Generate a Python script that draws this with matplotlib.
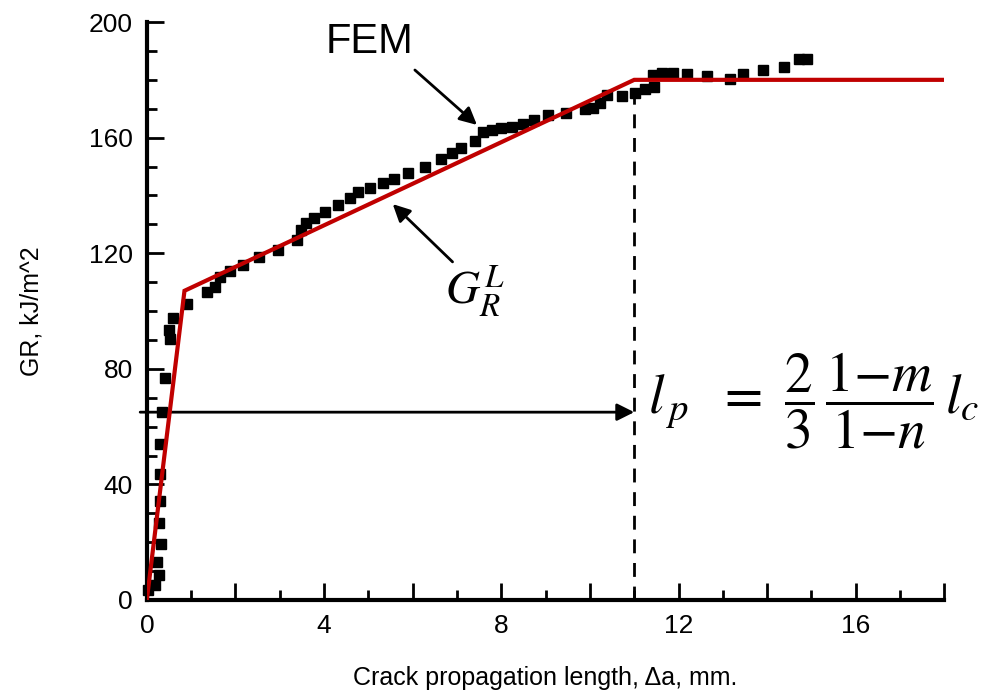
import numpy as np
import matplotlib.pyplot as plt
from matplotlib.ticker import MultipleLocator, FuncFormatter

plt.rcParams['font.family'] = ['Liberation Sans', 'DejaVu Sans']
plt.rcParams['mathtext.fontset'] = 'stix'

# FEM results (crack length in mm, GR in kJ/m^2)
fem_x = [0.03, 0.18, 0.28, 0.24, 0.32, 0.27, 0.30, 0.30, 0.29, 0.35, 0.41, 0.53, 0.50, 0.59, 0.90,
         1.35, 1.53, 1.65, 1.87, 2.17, 2.54, 2.96, 3.38, 3.49, 3.59, 3.77, 4.02, 4.32, 4.58, 4.77,
         5.03, 5.33, 5.58, 5.90, 6.28, 6.65, 6.88, 7.10, 7.40, 7.59, 7.78, 8.00, 8.25, 8.50, 8.74,
         9.06, 9.47, 9.89, 10.07, 10.23, 10.38, 10.72, 11.02, 11.24, 11.44, 11.43, 11.62, 11.88,
         12.20, 12.65, 13.16, 13.45, 13.90, 14.37, 14.72, 14.90]
fem_y = [3.5, 5.2, 8.7, 13.3, 19.3, 26.5, 34.4, 43.6, 53.9, 64.9, 76.9, 90.2, 93.4, 97.7, 102.4,
         106.7, 108.4, 111.7, 114.0, 116.0, 118.8, 121.1, 124.6, 128.0, 130.6, 132.3, 134.4, 136.7, 139.0, 141.3,
         142.5, 144.2, 145.6, 147.6, 149.9, 152.5, 154.6, 156.3, 158.7, 162.0, 162.8, 163.2, 163.8, 164.7, 166.1,
         167.8, 168.4, 169.8, 170.1, 172.1, 174.7, 174.4, 175.6, 176.8, 177.5, 181.7, 182.2, 182.2,
         182.0, 181.5, 180.2, 182.0, 183.4, 184.4, 187.3, 187.3]

# trilinear resistance curve G_R^L
gr_x = [0.0, 0.85, 11.0, 18.0]
gr_y = [0.0, 107.0, 180.0, 180.0]

lp = 11.0      # process zone length
arrow_y = 65.0

fig = plt.figure(figsize=(9.92, 6.91), dpi=100)
ax = fig.add_axes([0.148, 0.1317, 0.804, 0.8364])

ax.plot(fem_x, fem_y, 's', color='black', markersize=7.5, clip_on=False, zorder=3)
ax.plot(gr_x, gr_y, color='#C00000', lw=3, zorder=4, solid_joinstyle='miter')

ax.plot([lp, lp], [0, 180], color='black', lw=2, dashes=(5, 3.5), zorder=2)

arrow = dict(arrowstyle='-|>', color='black', lw=2, mutation_scale=26, shrinkA=0, shrinkB=0)
ax.annotate('', xy=(lp, arrow_y), xytext=(-0.15, arrow_y), arrowprops=arrow,
            annotation_clip=False)
ax.annotate('', xy=(7.45, 164.4), xytext=(6.05, 183.4), arrowprops=arrow)
ax.annotate('', xy=(5.55, 137.0), xytext=(6.9, 117.0), arrowprops=arrow)

ax.text(5.03, 193, 'FEM', fontsize=30, ha='center', va='center')
ax.text(7.4, 107, r'$G_R^L$', fontsize=34, ha='center', va='center')
ax.text(15.05, 69, r'$l_{\,p}\ \ =\ \dfrac{2}{3}\,\dfrac{1{-}m}{1{-}n}\,l_c$', fontsize=40,
        ha='center', va='center')

ax.set_xlim(0, 18)
ax.set_ylim(0, 200)
ax.xaxis.set_major_locator(MultipleLocator(2))
ax.xaxis.set_minor_locator(MultipleLocator(1))
ax.xaxis.set_major_formatter(FuncFormatter(lambda v, p: f'{v:.0f}' if round(v) % 4 == 0 else ''))
ax.yaxis.set_major_locator(MultipleLocator(40))
ax.yaxis.set_minor_locator(MultipleLocator(10))
ax.tick_params(which='both', direction='in', width=2, labelsize=19, pad=10)
ax.tick_params(which='major', length=12)
ax.tick_params(which='minor', length=7)
for side in ['top', 'right']:
    ax.spines[side].set_visible(False)
for side in ['left', 'bottom']:
    ax.spines[side].set_linewidth(3)

ax.set_xlabel('Crack propagation length, \u0394a, mm.', fontsize=18, labelpad=20)
ax.set_ylabel('GR, kJ/m^2', fontsize=18, labelpad=33)

fig.savefig('out.png', dpi=100)
